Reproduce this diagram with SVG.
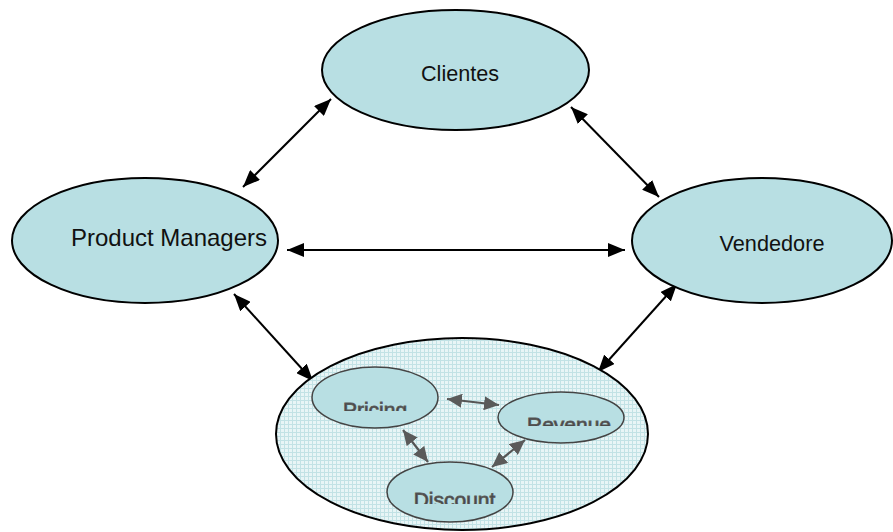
<svg xmlns="http://www.w3.org/2000/svg" width="893" height="532" viewBox="0 0 893 532">
<style>
.node{fill:#b8dfe3;stroke:#000;stroke-width:2}
.lbl{font-family:"Liberation Sans",Arial,sans-serif;fill:#111}
.sub{fill:#b8dfe3;stroke:#444;stroke-width:1.5}
.sublbl{font-family:"Liberation Sans",Arial,sans-serif;font-size:21px;fill:#444;stroke:#5a5a5a;stroke-width:0.8}
.conn{stroke:#000;stroke-width:2;fill:none}
.iconn{stroke:#555;stroke-width:2.2;fill:none}
</style>
<defs>
<marker id="ah" viewBox="0 0 17 14" refX="17" refY="7" markerWidth="17" markerHeight="14" markerUnits="userSpaceOnUse" orient="auto-start-reverse">
<path d="M0,0 L17,7 L0,14 z" fill="#000"/>
</marker>
<marker id="ahg" viewBox="0 0 15 14" refX="15" refY="7" markerWidth="15" markerHeight="14" markerUnits="userSpaceOnUse" orient="auto-start-reverse">
<path d="M0,0 L15,7 L0,14 z" fill="#5a5a5a"/>
</marker>
<pattern id="grid" width="4" height="4" patternUnits="userSpaceOnUse">
<rect width="4" height="4" fill="#e8f5f6"/>
<path d="M0,0.5 H4 M0.5,0 V4" stroke="#c2e2e5" stroke-width="1"/>
</pattern>
<clipPath id="cp1"><rect x="330" y="395" width="90" height="16"/></clipPath>
<clipPath id="cp2"><rect x="515" y="410" width="110" height="16"/></clipPath>
<clipPath id="cp3"><rect x="400" y="485" width="110" height="19"/></clipPath>
</defs>
<g id="connectors">
<line class="conn" x1="243" y1="187" x2="331" y2="99" marker-start="url(#ah)" marker-end="url(#ah)"/>
<line class="conn" x1="571" y1="107" x2="659" y2="197" marker-start="url(#ah)" marker-end="url(#ah)"/>
<line class="conn" x1="287" y1="250" x2="625" y2="250" marker-start="url(#ah)" marker-end="url(#ah)"/>
<line class="conn" x1="234" y1="294" x2="313" y2="381" marker-start="url(#ah)" marker-end="url(#ah)"/>
<line class="conn" x1="677" y1="284" x2="598" y2="372" marker-start="url(#ah)" marker-end="url(#ah)"/>
</g>
<g id="clientes">
<ellipse class="node" cx="455.5" cy="70" rx="133.5" ry="60"/>
<text class="lbl" x="460" y="81" font-size="21.6" text-anchor="middle">Clientes</text>
</g>
<g id="product-managers">
<ellipse class="node" cx="145" cy="240.5" rx="133" ry="62.5"/>
<text class="lbl" x="169" y="246" font-size="24" text-anchor="middle">Product Managers</text>
</g>
<g id="vendedore">
<ellipse class="node" cx="762" cy="240.5" rx="130" ry="62.5"/>
<text class="lbl" x="772" y="251" font-size="21.7" text-anchor="middle">Vendedore</text>
</g>
<g id="pricing-group">
<ellipse cx="462" cy="434" rx="186" ry="96" fill="url(#grid)" stroke="#000" stroke-width="2"/>
<g id="inner-connectors">
<line class="iconn" x1="447" y1="399" x2="499" y2="405" marker-start="url(#ahg)" marker-end="url(#ahg)"/>
<line class="iconn" x1="403" y1="430" x2="428" y2="462" marker-start="url(#ahg)" marker-end="url(#ahg)"/>
<line class="iconn" x1="525" y1="440" x2="492" y2="467" marker-start="url(#ahg)" marker-end="url(#ahg)"/>
</g>
<g id="pricing">
<ellipse class="sub" cx="375" cy="397.5" rx="63" ry="30.5"/>
<text class="sublbl" x="375" y="417" text-anchor="middle" clip-path="url(#cp1)">Pricing</text>
</g>
<g id="revenue">
<ellipse class="sub" cx="561" cy="417.5" rx="63" ry="25.5"/>
<text class="sublbl" x="569" y="432" text-anchor="middle" clip-path="url(#cp2)">Revenue</text>
</g>
<g id="discount">
<ellipse class="sub" cx="450" cy="492" rx="63" ry="30"/>
<text class="sublbl" x="454.5" y="507" text-anchor="middle" clip-path="url(#cp3)">Discount</text>
</g>
</g>
</svg>
